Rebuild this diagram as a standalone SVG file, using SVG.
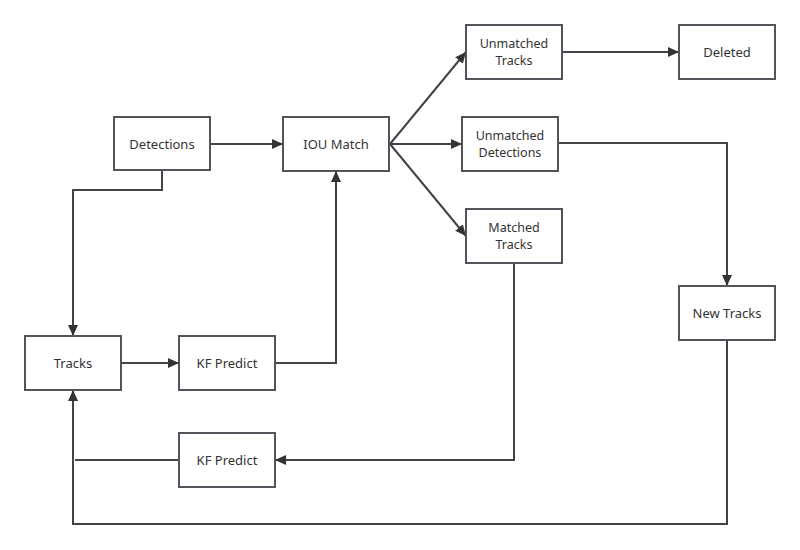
<svg xmlns="http://www.w3.org/2000/svg" width="800" height="550" viewBox="0 0 800 550">
<defs>
<marker id="arr" markerWidth="12" markerHeight="10" refX="11" refY="5" orient="auto" markerUnits="userSpaceOnUse">
<path d="M0,0 L11,5 L0,10 Z" fill="#333"/>
</marker>
<style>
.box{fill:#fff;stroke:#50555b;stroke-width:2}
.lbl{font-family:"Noto Sans","Open Sans",sans-serif;font-size:13px;fill:#333;text-anchor:middle}
.two{font-size:12.5px}
.ln{fill:none;stroke:#404448;stroke-width:2}
.ar{marker-end:url(#arr)}
</style>
</defs>
<rect width="800" height="550" fill="#fff"/>
<g id="connectors">
<path class="ln ar" d="M210,144 H283"/>
<path class="ln ar" d="M162,171 V190 H73 V336"/>
<path class="ln ar" d="M121,363 H179"/>
<path class="ln ar" d="M275,363 H336 V171"/>
<path class="ln ar" d="M390,144 L466,52"/>
<path class="ln ar" d="M390,144 H462"/>
<path class="ln ar" d="M390,144 L466,236"/>
<path class="ln ar" d="M562,52 H679"/>
<path class="ln ar" d="M558,143 H727 V286"/>
<path class="ln ar" d="M514,263 V460 H275"/>
<path class="ln" d="M179,460 H75"/>
<path class="ln ar" d="M727,340 V524 H73 V390"/>
</g>
<g id="detections"><rect class="box" x="114" y="117" width="96" height="53"/><text class="lbl" x="162" y="149">Detections</text></g>
<g id="iou"><rect class="box" x="283" y="117" width="106" height="54"/><text class="lbl" x="336" y="149">IOU Match</text></g>
<g id="unmatched-tracks"><rect class="box" x="466" y="25" width="96" height="54"/><text class="lbl two" x="514" y="48">Unmatched</text><text class="lbl two" x="514" y="65">Tracks</text></g>
<g id="unmatched-detections"><rect class="box" x="462" y="117" width="96" height="54"/><text class="lbl two" x="510" y="140">Unmatched</text><text class="lbl two" x="510" y="157">Detections</text></g>
<g id="matched-tracks"><rect class="box" x="466" y="209" width="96" height="54"/><text class="lbl two" x="514" y="232">Matched</text><text class="lbl two" x="514" y="249">Tracks</text></g>
<g id="deleted"><rect class="box" x="679" y="25" width="96" height="54"/><text class="lbl" x="727" y="57">Deleted</text></g>
<g id="new-tracks"><rect class="box" x="679" y="286" width="96" height="54"/><text class="lbl" x="727" y="318">New Tracks</text></g>
<g id="tracks"><rect class="box" x="25" y="336" width="96" height="54"/><text class="lbl" x="73" y="368">Tracks</text></g>
<g id="kf-predict-1"><rect class="box" x="179" y="336" width="96" height="54"/><text class="lbl" x="227" y="368">KF Predict</text></g>
<g id="kf-predict-2"><rect class="box" x="179" y="433" width="96" height="54"/><text class="lbl" x="227" y="465">KF Predict</text></g>
</svg>
